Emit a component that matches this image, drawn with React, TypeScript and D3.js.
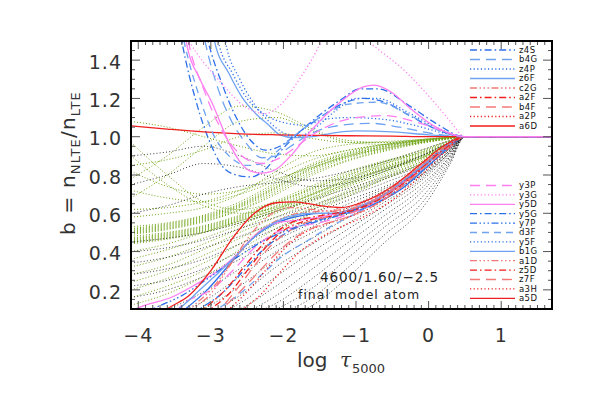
import React from 'react';
import * as d3 from 'd3';

const W = 591, H = 393;
const PL = 131, PR = 552, PT = 41, PB = 309;
const X_DOMAIN = [-4.1, 1.7];
const Y_DOMAIN = [0.1, 1.5];
const X_TICKS = [-4, -3, -2, -1, 0, 1];
const Y_TICKS = [0.2, 0.4, 0.6, 0.8, 1.0, 1.2, 1.4];

// common depth grid for the unlabelled (dotted) levels
const GX = [-4.1, -3.6, -3.1, -2.6, -2.1, -1.6, -1.1, -0.6, -0.1, 0.3, 0.5, 1.7];

const GREEN_LEVELS = [
  [0.53, 0.55, 0.59, 0.66, 0.76, 0.86, 0.92, 0.96, 0.985, 0.997, 1, 1],
  [0.52, 0.545, 0.585, 0.65, 0.75, 0.85, 0.915, 0.955, 0.98, 0.995, 1, 1],
  [0.515, 0.54, 0.58, 0.645, 0.74, 0.84, 0.905, 0.95, 0.978, 0.995, 1, 1],
  [0.51, 0.535, 0.575, 0.64, 0.735, 0.835, 0.9, 0.945, 0.975, 0.994, 1, 1],
  [0.505, 0.53, 0.57, 0.635, 0.73, 0.83, 0.895, 0.94, 0.972, 0.993, 1, 1],
  [0.5, 0.525, 0.565, 0.63, 0.72, 0.82, 0.89, 0.935, 0.97, 0.992, 1, 1],
  [0.495, 0.52, 0.56, 0.62, 0.71, 0.81, 0.88, 0.93, 0.968, 0.99, 1, 1],
  [0.49, 0.515, 0.555, 0.615, 0.7, 0.8, 0.875, 0.925, 0.965, 0.99, 1, 1],
  [0.48, 0.5, 0.535, 0.59, 0.665, 0.745, 0.82, 0.875, 0.92, 0.975, 1, 1],
  [0.47, 0.495, 0.53, 0.585, 0.655, 0.735, 0.81, 0.87, 0.915, 0.972, 1, 1],
  [0.465, 0.49, 0.525, 0.58, 0.65, 0.725, 0.8, 0.86, 0.91, 0.97, 1, 1],
  [0.46, 0.485, 0.52, 0.575, 0.64, 0.715, 0.79, 0.85, 0.905, 0.968, 1, 1],
  [0.455, 0.48, 0.515, 0.57, 0.635, 0.705, 0.78, 0.845, 0.9, 0.965, 1, 1],
  [0.45, 0.475, 0.51, 0.565, 0.625, 0.695, 0.77, 0.835, 0.895, 0.962, 1, 1],
  [0.445, 0.47, 0.505, 0.56, 0.62, 0.685, 0.76, 0.83, 0.89, 0.96, 1, 1],
  [0.44, 0.465, 0.5, 0.55, 0.61, 0.675, 0.75, 0.82, 0.885, 0.958, 1, 1],
  [0.4, 0.44, 0.5, 0.56, 0.62, 0.7, 0.77, 0.84, 0.9, 0.96, 1, 1],
  [0.36, 0.41, 0.47, 0.54, 0.61, 0.68, 0.76, 0.83, 0.89, 0.96, 1, 1],
  [0.32, 0.37, 0.44, 0.52, 0.6, 0.67, 0.75, 0.82, 0.89, 0.96, 1, 1],
  [0.28, 0.33, 0.41, 0.5, 0.58, 0.66, 0.74, 0.81, 0.88, 0.95, 1, 1],
  [0.24, 0.3, 0.38, 0.47, 0.56, 0.64, 0.72, 0.8, 0.87, 0.95, 1, 1],
  [0.2, 0.26, 0.34, 0.44, 0.54, 0.63, 0.71, 0.79, 0.87, 0.95, 1, 1],
  [0.16, 0.22, 0.3, 0.41, 0.52, 0.62, 0.7, 0.78, 0.86, 0.95, 1, 1],
  [0.12, 0.18, 0.27, 0.38, 0.5, 0.6, 0.69, 0.78, 0.86, 0.95, 1, 1],
  [1.08, 1.05, 1.0, 0.95, 0.91, 0.9, 0.93, 0.96, 0.98, 0.995, 1, 1],
  [0.78, 0.9, 1.05, 1.16, 1.13, 1.04, 0.98, 0.97, 0.985, 0.997, 1, 1],
  [0.68, 0.8, 0.95, 1.08, 1.1, 1.03, 0.97, 0.96, 0.98, 0.995, 1, 1],
  [0.97, 0.8, 0.66, 0.62, 0.66, 0.73, 0.8, 0.87, 0.93, 0.98, 1, 1],
  [0.9, 0.75, 0.64, 0.6, 0.63, 0.7, 0.78, 0.86, 0.92, 0.98, 1, 1],
  [0.82, 0.74, 0.7, 0.72, 0.78, 0.84, 0.9, 0.94, 0.97, 0.99, 1, 1],
  [0.72, 0.68, 0.66, 0.7, 0.77, 0.85, 0.91, 0.95, 0.975, 0.995, 1, 1],
  [0.62, 0.63, 0.66, 0.72, 0.8, 0.88, 0.93, 0.96, 0.98, 0.995, 1, 1],
  [0.58, 0.6, 0.63, 0.7, 0.82, 0.92, 0.96, 0.975, 0.985, 0.997, 1, 1],
  [0.85, 0.88, 0.93, 1.0, 1.02, 0.99, 0.97, 0.97, 0.985, 0.997, 1, 1],
];

const BLACK_LEVELS = [
  [0.45, 0.47, 0.5, 0.55, 0.61, 0.67, 0.73, 0.79, 0.86, 0.95, 1, 1],
  [0.4, 0.42, 0.46, 0.52, 0.58, 0.64, 0.71, 0.78, 0.85, 0.94, 1, 1],
  [0.34, 0.37, 0.42, 0.48, 0.55, 0.62, 0.69, 0.76, 0.84, 0.94, 1, 1],
  [0.28, 0.31, 0.36, 0.44, 0.52, 0.6, 0.67, 0.74, 0.83, 0.94, 1, 1],
  [0.22, 0.25, 0.31, 0.4, 0.49, 0.57, 0.65, 0.73, 0.82, 0.93, 1, 1],
  [0.16, 0.2, 0.27, 0.36, 0.46, 0.55, 0.63, 0.72, 0.81, 0.93, 1, 1],
  [0.06, 0.1, 0.19, 0.31, 0.43, 0.53, 0.62, 0.71, 0.8, 0.93, 1, 1],
  [0.03, 0.06, 0.14, 0.27, 0.4, 0.5, 0.6, 0.7, 0.8, 0.92, 1, 1],
  [0.02, 0.04, 0.1, 0.22, 0.36, 0.47, 0.58, 0.68, 0.79, 0.92, 1, 1],
  [0.01, 0.03, 0.07, 0.17, 0.32, 0.44, 0.55, 0.66, 0.78, 0.92, 1, 1],
  [0.01, 0.02, 0.05, 0.13, 0.27, 0.4, 0.52, 0.64, 0.77, 0.91, 1, 1],
  [0.01, 0.02, 0.04, 0.1, 0.22, 0.36, 0.49, 0.62, 0.75, 0.9, 1, 1],
  [0.01, 0.01, 0.03, 0.07, 0.17, 0.31, 0.45, 0.59, 0.73, 0.9, 1, 1],
  [0.01, 0.01, 0.02, 0.05, 0.13, 0.26, 0.41, 0.56, 0.71, 0.89, 1, 1],
  [0.01, 0.01, 0.02, 0.04, 0.1, 0.21, 0.37, 0.53, 0.68, 0.88, 1, 1],
  [0.01, 0.01, 0.02, 0.03, 0.07, 0.16, 0.32, 0.49, 0.65, 0.87, 1, 1],
  [0.01, 0.01, 0.01, 0.02, 0.05, 0.12, 0.27, 0.45, 0.62, 0.86, 1, 1],
  [0.75, 0.8, 0.86, 0.84, 0.78, 0.74, 0.76, 0.82, 0.9, 0.97, 1, 1],
  [0.6, 0.64, 0.7, 0.74, 0.76, 0.78, 0.82, 0.87, 0.93, 0.98, 1, 1],
  [0.9, 0.92, 0.95, 0.9, 0.82, 0.77, 0.78, 0.83, 0.9, 0.97, 1, 1],
];

// labelled levels: [log tau, b]
const z4S = [[-3.6, 2.0], [-3.4, 1.5], [-3.2, 1.18], [-3.0, 0.96], [-2.85, 0.85], [-2.65, 0.8], [-2.45, 0.79], [-2.25, 0.83], [-2.05, 0.92], [-1.64, 1.07], [-1.22, 1.19], [-0.94, 1.25], [-0.7, 1.25], [-0.26, 1.16], [0.1, 1.07], [0.5, 1.0], [1.7, 1.0]];
const b4G = [[-3.3, 2.0], [-3.08, 1.5], [-2.9, 1.25], [-2.74, 1.1], [-2.5, 0.96], [-2.3, 0.89], [-2.1, 0.9], [-1.9, 0.95], [-1.6, 1.02], [-1.2, 1.06], [-0.8, 1.07], [-0.4, 1.05], [0, 1.02], [0.5, 1.0], [1.7, 1.0]];
const z4P = [[-3.1, 2.0], [-2.9, 1.5], [-2.7, 1.33], [-2.5, 1.2], [-2.23, 1.11], [-1.95, 1.07], [-1.7, 1.06], [-1.45, 1.09], [-1.1, 1.1], [-0.6, 1.09], [-0.2, 1.06], [0.2, 1.02], [0.5, 1.0], [1.7, 1.0]];
const z6F = [[-3.15, 2.0], [-2.95, 1.5], [-2.75, 1.33], [-2.56, 1.2], [-2.38, 1.12], [-2.2, 1.06], [-2.05, 1.01], [-1.85, 0.995], [-1.6, 1.0], [-1.3, 1.02], [-1.0, 1.03], [-0.5, 1.025], [0, 1.01], [0.5, 1.0], [1.7, 1.0]];
const c2G = [[-3.4, 0.07], [-3.3, 0.1], [-3.0, 0.2], [-2.7, 0.35], [-2.4, 0.48], [-2.1, 0.56], [-1.8, 0.6], [-1.5, 0.61], [-1.2, 0.62], [-0.8, 0.67], [-0.4, 0.76], [0, 0.88], [0.3, 0.96], [0.5, 1.0], [1.7, 1.0]];
const a2F = [[-3.1, 0.07], [-3.0, 0.1], [-2.75, 0.18], [-2.5, 0.3], [-2.25, 0.42], [-2.0, 0.51], [-1.7, 0.56], [-1.4, 0.58], [-1.1, 0.61], [-0.7, 0.68], [-0.3, 0.78], [0.1, 0.9], [0.5, 1.0], [1.7, 1.0]];
const b4F = [[-2.95, 0.07], [-2.87, 0.1], [-2.65, 0.2], [-2.45, 0.3], [-2.2, 0.42], [-1.95, 0.5], [-1.7, 0.55], [-1.4, 0.58], [-1.1, 0.6], [-0.7, 0.67], [-0.3, 0.77], [0.1, 0.9], [0.5, 1.0], [1.7, 1.0]];
const a2P = [[-2.85, 0.07], [-2.75, 0.1], [-2.5, 0.19], [-2.25, 0.3], [-2.0, 0.41], [-1.75, 0.49], [-1.45, 0.54], [-1.1, 0.58], [-0.7, 0.65], [-0.3, 0.76], [0.1, 0.9], [0.5, 1.0], [1.7, 1.0]];
const a6D = [[-4.1, 1.057], [-3.6, 1.04], [-3.1, 1.025], [-2.6, 1.015], [-2.1, 1.01], [-1.6, 1.007], [-1.1, 1.005], [-0.5, 1.003], [0, 1.0], [0.5, 1.0], [1.7, 1.0]];
const y3P = [[-3.5, 2.0], [-3.31, 1.5], [-3.1, 1.25], [-2.9, 1.07], [-2.7, 0.95], [-2.5, 0.88], [-2.3, 0.86], [-2.1, 0.88], [-1.85, 0.94], [-1.6, 1.01], [-1.3, 1.07], [-1.0, 1.1], [-0.6, 1.11], [-0.2, 1.08], [0.2, 1.03], [0.5, 1.0], [1.7, 1.0]];
const y3G = [[-3.5, 1.65], [-3.3, 1.5], [-2.9, 1.3], [-2.5, 1.15], [-2.25, 1.12], [-2.06, 1.16], [-1.78, 1.3], [-1.6, 1.41], [-1.47, 1.5], [-1.15, 1.6], [-0.84, 1.5], [-0.29, 1.33], [0.1, 1.17], [0.3, 1.08], [0.5, 1.0], [1.7, 1.0]];
const y5D = [[-3.5, 2.0], [-3.34, 1.5], [-3.15, 1.3], [-3.0, 1.19], [-2.74, 0.96], [-2.6, 0.87], [-2.45, 0.82], [-2.3, 0.81], [-2.1, 0.83], [-1.9, 0.9], [-1.6, 1.04], [-1.22, 1.18], [-0.9, 1.26], [-0.75, 1.27], [-0.5, 1.23], [-0.26, 1.15], [0.1, 1.05], [0.5, 1.0], [1.7, 1.0]];
const y5G = [[-3.3, 2.0], [-3.04, 1.5], [-2.85, 1.28], [-2.65, 1.1], [-2.45, 0.98], [-2.25, 0.93], [-2.05, 0.95], [-1.8, 1.02], [-1.5, 1.1], [-1.2, 1.17], [-0.9, 1.2], [-0.6, 1.18], [-0.26, 1.11], [0.1, 1.04], [0.5, 1.0], [1.7, 1.0]];
const y7P = [[-3.95, 0.07], [-3.8, 0.1], [-3.4, 0.17], [-3.0, 0.27], [-2.6, 0.38], [-2.2, 0.47], [-1.8, 0.53], [-1.4, 0.57], [-1.0, 0.62], [-0.6, 0.7], [-0.2, 0.81], [0.2, 0.93], [0.5, 1.0], [1.7, 1.0]];
const d3F = [[-3.6, 2.0], [-3.37, 1.5], [-3.15, 1.2], [-2.95, 1.0], [-2.75, 0.9], [-2.5, 0.85], [-2.3, 0.86], [-2.1, 0.92], [-1.8, 1.02], [-1.5, 1.1], [-1.1, 1.17], [-0.7, 1.18], [-0.3, 1.12], [0.1, 1.04], [0.5, 1.0], [1.7, 1.0]];
const y5F = [[-2.95, 2.0], [-2.8, 1.5], [-2.6, 1.3], [-2.4, 1.17], [-2.2, 1.08], [-2.0, 1.02], [-1.8, 1.0], [-1.55, 1.05], [-1.3, 1.13], [-1.0, 1.2], [-0.7, 1.2], [-0.3, 1.13], [0.1, 1.05], [0.5, 1.0], [1.7, 1.0]];
const b1G = [[-3.6, 0.07], [-3.45, 0.1], [-3.15, 0.2], [-2.7, 0.36], [-2.33, 0.5], [-1.95, 0.58], [-1.63, 0.6], [-1.3, 0.6], [-1.0, 0.63], [-0.6, 0.7], [-0.25, 0.8], [0.1, 0.9], [0.5, 1.0], [1.7, 1.0]];
const a1D = [[-3.35, 0.07], [-3.25, 0.1], [-3.0, 0.18], [-2.75, 0.32], [-2.45, 0.49], [-2.15, 0.6], [-1.9, 0.63], [-1.6, 0.62], [-1.3, 0.61], [-1.0, 0.63], [-0.6, 0.7], [-0.2, 0.82], [0.2, 0.94], [0.5, 1.0], [1.7, 1.0]];
const z5D = [[-3.2, 0.07], [-3.1, 0.1], [-2.8, 0.2], [-2.5, 0.34], [-2.2, 0.47], [-1.9, 0.55], [-1.6, 0.58], [-1.3, 0.6], [-1.0, 0.62], [-0.6, 0.69], [-0.2, 0.8], [0.2, 0.93], [0.5, 1.0], [1.7, 1.0]];
const z7F = [[-2.95, 0.07], [-2.85, 0.1], [-2.6, 0.19], [-2.35, 0.29], [-2.1, 0.39], [-1.85, 0.47], [-1.55, 0.53], [-1.2, 0.57], [-0.8, 0.63], [-0.4, 0.73], [0, 0.86], [0.3, 0.95], [0.5, 1.0], [1.7, 1.0]];
const a3H = [[-2.65, 0.07], [-2.55, 0.1], [-2.3, 0.18], [-2.05, 0.29], [-1.8, 0.39], [-1.5, 0.47], [-1.2, 0.53], [-0.9, 0.58], [-0.5, 0.67], [-0.1, 0.8], [0.2, 0.91], [0.5, 1.0], [1.7, 1.0]];
const a5D = [[-3.7, 0.07], [-3.6, 0.1], [-3.3, 0.17], [-3.0, 0.3], [-2.7, 0.47], [-2.4, 0.6], [-2.1, 0.655], [-1.85, 0.66], [-1.5, 0.64], [-1.2, 0.63], [-0.9, 0.66], [-0.5, 0.74], [-0.1, 0.86], [0.2, 0.95], [0.5, 1.0], [1.7, 1.0]];

// further (unlabelled) coloured levels of the lower group
const pinkLow1 = [[-4.1, 0.09], [-3.9, 0.12], [-3.55, 0.16], [-3.2, 0.23], [-2.9, 0.3], [-2.6, 0.4], [-2.35, 0.5], [-2.1, 0.55], [-1.9, 0.56], [-1.5, 0.58], [-1.0, 0.63], [-0.6, 0.7], [-0.26, 0.79], [0.1, 0.9], [0.5, 1.0], [1.7, 1.0]];
const pinkLow2 = [[-3.5, 0.08], [-3.4, 0.12], [-3.0, 0.2], [-2.7, 0.3], [-2.4, 0.42], [-2.1, 0.5], [-1.8, 0.53], [-1.4, 0.56], [-1.0, 0.61], [-0.6, 0.69], [-0.2, 0.8], [0.2, 0.93], [0.5, 1.0], [1.7, 1.0]];
const blueLow1 = [[-3.25, 0.07], [-3.15, 0.1], [-2.85, 0.18], [-2.55, 0.3], [-2.25, 0.42], [-1.95, 0.5], [-1.65, 0.55], [-1.35, 0.58], [-1.0, 0.62], [-0.6, 0.7], [-0.2, 0.81], [0.2, 0.94], [0.5, 1.0], [1.7, 1.0]];
const blueLow2 = [[-3.0, 0.07], [-2.9, 0.1], [-2.6, 0.18], [-2.3, 0.28], [-2.0, 0.38], [-1.7, 0.45], [-1.4, 0.52], [-1.0, 0.6], [-0.6, 0.68], [-0.2, 0.79], [0.2, 0.93], [0.5, 1.0], [1.7, 1.0]];
const blueLow3 = [[-3.45, 0.07], [-3.35, 0.1], [-3.05, 0.2], [-2.75, 0.33], [-2.45, 0.46], [-2.15, 0.54], [-1.85, 0.58], [-1.5, 0.6], [-1.15, 0.6], [-0.8, 0.64], [-0.4, 0.72], [0, 0.85], [0.3, 0.95], [0.5, 1.0], [1.7, 1.0]];

const BLUE = '#2c6fea';
const LBLUE = '#6fa3f2';
const RED = '#f01e1e';
const LRED = '#f47878';
const PINK = '#ff7ef0';

const DASH: Record<string, string | undefined> = {
  solid: undefined,
  dot: '1.2,2.4',
  dashdot: '7,3,1.6,3',
  longdash: '10,6',
  dash3dot: '7,2.5,1.5,2.5,1.5,2.5,1.5,2.5',
  dashes: '7,5',
};

const LEGEND_TOP = [
  { name: 'z4S', pts: z4S, color: BLUE, dash: 'dashdot' },
  { name: 'b4G', pts: b4G, color: LBLUE, dash: 'longdash' },
  { name: 'z4P', pts: z4P, color: BLUE, dash: 'dot' },
  { name: 'z6F', pts: z6F, color: LBLUE, dash: 'solid' },
  { name: 'c2G', pts: c2G, color: LRED, dash: 'dash3dot' },
  { name: 'a2F', pts: a2F, color: RED, dash: 'dashdot' },
  { name: 'b4F', pts: b4F, color: LRED, dash: 'longdash' },
  { name: 'a2P', pts: a2P, color: RED, dash: 'dot' },
  { name: 'a6D', pts: a6D, color: RED, dash: 'solid' },
];
const LEGEND_BOTTOM = [
  { name: 'y3P', pts: y3P, color: PINK, dash: 'longdash' },
  { name: 'y3G', pts: y3G, color: PINK, dash: 'dot' },
  { name: 'y5D', pts: y5D, color: PINK, dash: 'solid' },
  { name: 'y5G', pts: y5G, color: BLUE, dash: 'dashdot' },
  { name: 'y7P', pts: y7P, color: BLUE, dash: 'dash3dot' },
  { name: 'd3F', pts: d3F, color: LBLUE, dash: 'dashes' },
  { name: 'y5F', pts: y5F, color: BLUE, dash: 'dot' },
  { name: 'b1G', pts: b1G, color: LBLUE, dash: 'solid' },
  { name: 'a1D', pts: a1D, color: LRED, dash: 'dash3dot' },
  { name: 'z5D', pts: z5D, color: RED, dash: 'dashdot' },
  { name: 'z7F', pts: z7F, color: LRED, dash: 'longdash' },
  { name: 'a3H', pts: a3H, color: RED, dash: 'dot' },
  { name: 'a5D', pts: a5D, color: RED, dash: 'solid' },
];
const EXTRA = [
  { pts: blueLow1, color: BLUE, dash: 'dashdot' },
  { pts: blueLow2, color: LBLUE, dash: 'dashes' },
  { pts: blueLow3, color: BLUE, dash: 'solid' },
  { pts: pinkLow2, color: PINK, dash: 'longdash' },
  { pts: pinkLow1, color: PINK, dash: 'solid' },
];

const FONT = "'DejaVu Sans', sans-serif";

export default function App() {
  const x = d3.scaleLinear().domain(X_DOMAIN).range([PL, PR]);
  const y = d3.scaleLinear().domain(Y_DOMAIN).range([PB, PT]);
  const line = d3.line<number[]>().x(d => x(d[0])).y(d => y(d[1])).curve(d3.curveMonotoneX);
  const gridLine = (vals: number[]) => line(vals.map((v, i) => [GX[i], v]));

  const xMinor = d3.range(-41, 18).map(i => i / 10);
  const yMinor = d3.range(2, 31).map(i => i / 20);

  const lowerColored = [...LEGEND_TOP.filter(l => l.pts[0][1] < 0.5), ...LEGEND_BOTTOM.filter(l => l.pts[0][1] < 0.5)];
  const upperColored = [...LEGEND_TOP.filter(l => l.pts[0][1] >= 0.5 && l.color !== PINK), ...LEGEND_BOTTOM.filter(l => l.pts[0][1] >= 0.5 && l.color !== PINK)];
  const pinkUpper = LEGEND_BOTTOM.filter(l => l.pts[0][1] >= 0.5 && l.color === PINK);

  const legendRow = (l: any, yy: number) => (
    <g key={l.name}>
      <line x1={470} x2={515} y1={yy} y2={yy} stroke={l.color} strokeWidth={1.3} strokeDasharray={DASH[l.dash]} />
      <text x={519} y={yy} dy="0.35em" fontSize={8.5} letterSpacing={0.4} fontFamily={FONT} fill="#111">{l.name}</text>
    </g>
  );

  return (
    <svg width={W} height={H} style={{ position: 'absolute', left: 0, top: 0, background: '#fff' }}>
      <defs>
        <clipPath id="plotclip"><rect x={PL} y={PT} width={PR - PL} height={PB - PT} /></clipPath>
      </defs>
      <g clipPath="url(#plotclip)" fill="none">
        {GREEN_LEVELS.map((v, i) => (
          <path key={'g' + i} d={gridLine(v) || ''} stroke="#6fa414" strokeWidth={1} strokeDasharray="1,2" />
        ))}
        {BLACK_LEVELS.map((v, i) => (
          <path key={'k' + i} d={gridLine(v) || ''} stroke="#111" strokeWidth={0.8} strokeDasharray="1,2.2" />
        ))}
        {EXTRA.map((l, i) => (
          <path key={'e' + i} d={line(l.pts) || ''} stroke={l.color} strokeWidth={1.3} strokeDasharray={DASH[l.dash]} />
        ))}
        {lowerColored.map(l => (
          <path key={l.name} d={line(l.pts) || ''} stroke={l.color} strokeWidth={1.3} strokeDasharray={DASH[l.dash]} />
        ))}
        {upperColored.map(l => (
          <path key={l.name} d={line(l.pts) || ''} stroke={l.color} strokeWidth={1.3} strokeDasharray={DASH[l.dash]} />
        ))}
        {pinkUpper.map(l => (
          <path key={l.name} d={line(l.pts) || ''} stroke={l.color} strokeWidth={1.3} strokeDasharray={DASH[l.dash]} />
        ))}
      </g>

      {/* ticks */}
      <g stroke="#555" strokeWidth={1}>
        {xMinor.filter(v => v >= X_DOMAIN[0] && v <= X_DOMAIN[1]).map((v, i) => {
          const major = Math.abs(v - Math.round(v)) < 1e-6;
          const len = major ? 8 : 4;
          return (
            <g key={'xt' + i}>
              <line x1={x(v)} x2={x(v)} y1={PB} y2={PB - len} />
              <line x1={x(v)} x2={x(v)} y1={PT} y2={PT + len} />
            </g>
          );
        })}
        {yMinor.map((v, i) => {
          const major = Math.abs(v * 5 - Math.round(v * 5)) < 1e-6;
          const len = major ? 9 : 4;
          return (
            <g key={'yt' + i}>
              <line x1={PL} x2={PL + len} y1={y(v)} y2={y(v)} />
              <line x1={PR} x2={PR - len} y1={y(v)} y2={y(v)} />
            </g>
          );
        })}
      </g>
      <rect x={PL} y={PT} width={PR - PL} height={PB - PT} fill="none" stroke="#000" strokeWidth={2} />

      {/* tick labels */}
      <g fontFamily={FONT} fontSize={19} fill="#333" letterSpacing={1}>
        {X_TICKS.map(v => (
          <text key={'xl' + v} x={x(v)} y={342} textAnchor="middle">{v < 0 ? '\u2212' + Math.abs(v) : String(v)}</text>
        ))}
        {Y_TICKS.map(v => (
          <text key={'yl' + v} x={122} y={y(v) + 2} dy="0.35em" textAnchor="end">{v.toFixed(1)}</text>
        ))}
      </g>

      {/* axis titles */}
      <text x={297} y={367} fontFamily={FONT} fontSize={20} fill="#333">
        log
        <tspan x={340} fontFamily="'DejaVu Serif', serif" fontStyle="italic">τ</tspan>
        <tspan x={352} dy={6} fontSize={13}>5000</tspan>
      </text>
      <text transform="translate(75,163) rotate(-90)" textAnchor="middle" fontFamily={FONT} fontSize={20} fill="#333" letterSpacing={1.2}>
        b = n<tspan fontSize={13} dy={5}>NLTE</tspan><tspan dy={-5}>/n</tspan><tspan fontSize={13} dy={5}>LTE</tspan>
      </text>

      {/* annotation */}
      <text x={320} y={282} fontFamily={FONT} fontSize={13.5} letterSpacing={0.9} fill="#222">4600/1.60/−2.5</text>
      <text x={298} y={299} fontFamily={FONT} fontSize={12.5} letterSpacing={1} fill="#222">final model atom</text>

      {/* legends */}
      <g>
        {LEGEND_TOP.map((l, i) => legendRow(l, 50 + i * 9.5))}
        {LEGEND_BOTTOM.map((l, i) => legendRow(l, 185.5 + i * 9.4))}
      </g>
    </svg>
  );
}
